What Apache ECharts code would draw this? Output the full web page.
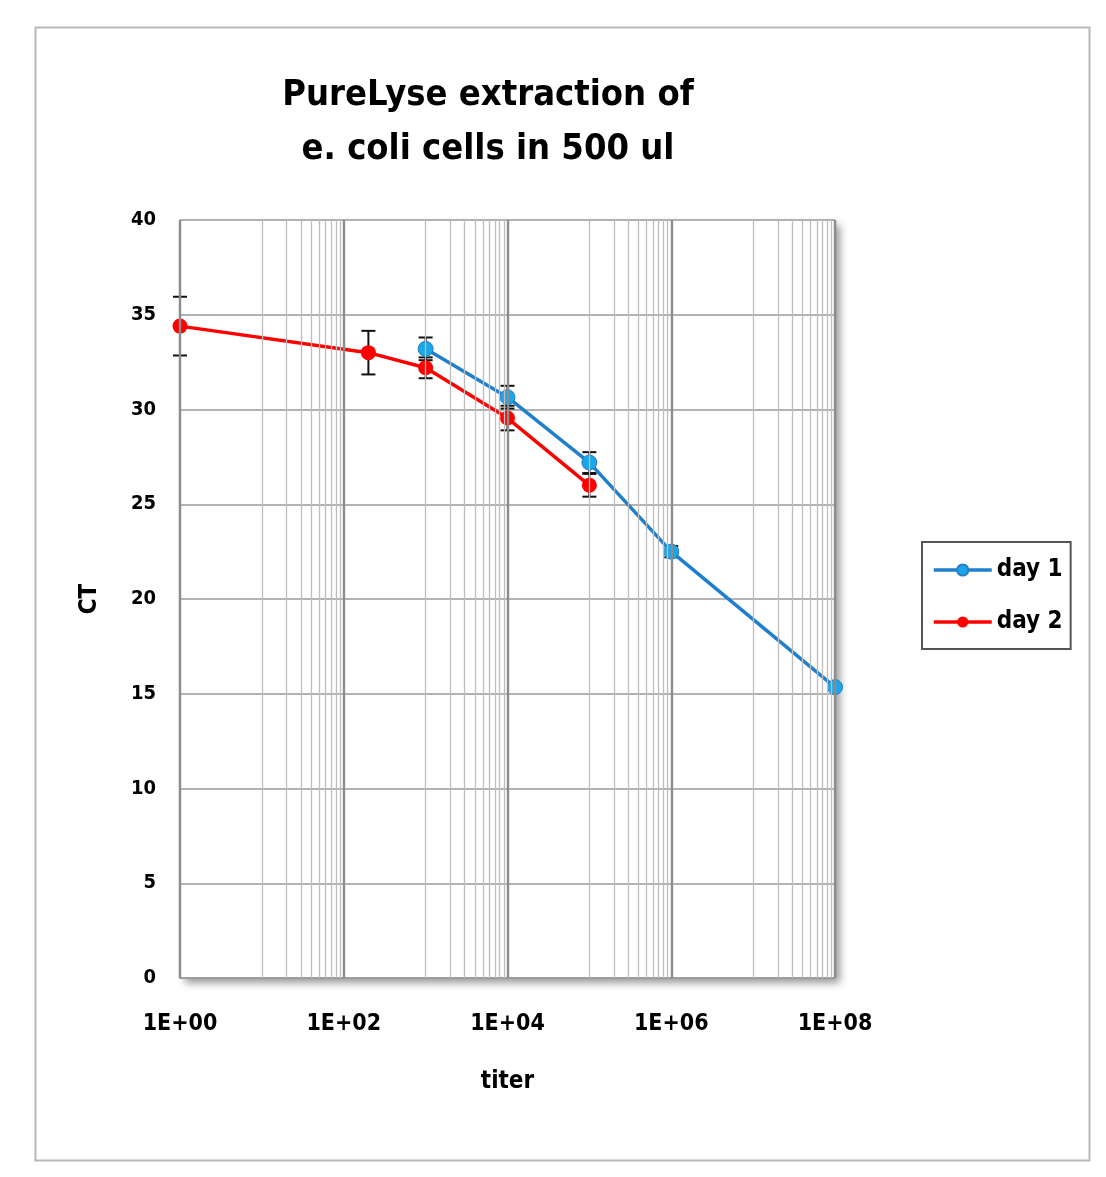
<!DOCTYPE html>
<html>
<head>
<meta charset="utf-8">
<script src="https://cdn.jsdelivr.net/npm/echarts@6/dist/echarts.min.js"></script>
<style>
  html, body { margin: 0; padding: 0; background: #fff; }
  #chart { width: 1106px; height: 1177px; }
</style>
</head>
<body>
<div id="chart"></div>
<script>
  // titer values and CT readings
  var day1Titer = [1000, 10000, 100000, 1000000, 100000000];
  var day1CT = [33.2, 30.65, 27.2, 22.5, 15.35];
  var day1Err = [0.6, 0.6, 0.55, 0.3, 0];

  var day2Titer = [1, 200, 1000, 10000, 100000];
  var day2CT = [34.4, 33.0, 32.2, 29.55, 26.0];
  var day2Err = [1.55, 1.15, 0.55, 0.65, 0.6];

  var yTicks = [0, 5, 10, 15, 20, 25, 30, 35, 40];
  var fontName = '"DejaVu Sans Condensed", "DejaVu Sans", sans-serif';

  // log axis grid: major every two decades, minor at 1..9 x 10^odd
  var majorLines = [];
  var minorLines = [];
  for (var d = 0; d <= 8; d++) {
    var base = Math.pow(10, d);
    if (d % 2 === 0) {
      majorLines.push(base);
    } else {
      for (var k = 1; k <= 9; k++) minorLines.push(k * base);
    }
  }

  function pairs(xs, ys) {
    return xs.map(function (x, i) { return [x, ys[i]]; });
  }
  function errData(xs, ys, es) {
    return xs.map(function (x, i) { return [x, ys[i] - es[i], ys[i] + es[i]]; });
  }

  function renderErr(params, api) {
    if (api.value(2) - api.value(1) <= 0) return;
    var lo = api.coord([api.value(0), api.value(1)]);
    var hi = api.coord([api.value(0), api.value(2)]);
    var cap = 7;
    var st = { stroke: '#111', lineWidth: 2 };
    return {
      type: 'group',
      children: [
        { type: 'line', shape: { x1: lo[0], y1: lo[1], x2: hi[0], y2: hi[1] }, style: st },
        { type: 'line', shape: { x1: lo[0] - cap, y1: lo[1], x2: lo[0] + cap, y2: lo[1] }, style: st },
        { type: 'line', shape: { x1: hi[0] - cap, y1: hi[1], x2: hi[0] + cap, y2: hi[1] }, style: st }
      ]
    };
  }

  var myChart = echarts.init(document.getElementById('chart'));
  var option = {
    animation: false,
    backgroundColor: '#fff',
    textStyle: { fontFamily: fontName },
    graphic: [{
      type: 'rect',
      left: 33, top: 25,
      shape: { width: 1054, height: 1133 },
      style: { fill: 'none', stroke: '#b8b8b8', lineWidth: 2 },
      silent: true
    }],
    title: {
      text: 'PureLyse extraction of\ne. coli cells in 500 ul',
      left: 483, top: 64,
      textAlign: 'center',
      textStyle: { fontSize: 36, fontWeight: 'bold', color: '#000', lineHeight: 54, fontFamily: fontName }
    },
    legend: {
      orient: 'vertical',
      left: 922, top: 542,
      padding: [16, 8, 15, 10],
      itemGap: 28,
      itemWidth: 58, itemHeight: 14,
      borderColor: '#555', borderWidth: 2,
      textStyle: { fontSize: 24, fontWeight: 'bold', color: '#000', fontFamily: fontName },
      data: [
        { name: 'day 1', lineStyle: { width: 3.5 } },
        { name: 'day 2', lineStyle: { width: 3.5 } }
      ]
    },
    grid: {
      left: 180, right: 271, top: 220, bottom: 199,
      show: true, backgroundColor: '#fff', borderWidth: 0,
      shadowColor: 'rgba(0,0,0,0.4)', shadowBlur: 8, shadowOffsetX: 5, shadowOffsetY: 5
    },
    xAxis: {
      type: 'log', logBase: 10, min: 1, max: 100000000,
      name: 'titer', nameLocation: 'middle', nameGap: 92,
      nameTextStyle: { fontSize: 24, fontWeight: 'bold', color: '#000', fontFamily: fontName },
      axisLine: { show: true, lineStyle: { color: '#999', width: 1.5 } },
      axisTick: { show: false },
      splitLine: { show: false },
      axisLabel: {
        margin: 35, fontSize: 23, fontWeight: 'bold', color: '#000',
        formatter: function (v) {
          var e = Math.round(Math.log(v) / Math.LN10);
          if (e % 2) return '';
          return '1E+' + (e < 10 ? '0' : '') + e;
        }
      }
    },
    yAxis: {
      type: 'value', min: yTicks[0], max: yTicks[yTicks.length - 1], interval: 5,
      name: 'CT', nameLocation: 'middle', nameGap: 78,
      nameTextStyle: { fontSize: 24, fontWeight: 'bold', color: '#000', fontFamily: fontName },
      axisLine: { show: true, lineStyle: { color: '#aaa', width: 1.5 } },
      axisTick: { show: false },
      splitLine: { lineStyle: { color: '#9a9a9a', width: 1.5 } },
      axisLabel: { margin: 24, fontSize: 20, fontWeight: 'bold', color: '#000' }
    },
    series: [
      {
        name: 'grid', type: 'line', data: [], silent: true, z: 1,
        markLine: {
          silent: true, symbol: 'none', label: { show: false },
          data: minorLines.map(function (v) {
            return { xAxis: v, lineStyle: { color: '#bdbdbd', width: 1.3, type: 'solid' } };
          }).concat(majorLines.map(function (v) {
            return { xAxis: v, lineStyle: { color: '#8c8c8c', width: 2.4, type: 'solid' } };
          }))
        }
      },
      {
        name: 'err1', type: 'custom', renderItem: renderErr, z: 2, silent: true, clip: false,
        encode: { x: 0, y: [1, 2] },
        data: errData(day1Titer, day1CT, day1Err)
      },
      {
        name: 'err2', type: 'custom', renderItem: renderErr, z: 2, silent: true, clip: false,
        encode: { x: 0, y: [1, 2] },
        data: errData(day2Titer, day2CT, day2Err)
      },
      {
        name: 'day 1', type: 'line', data: pairs(day1Titer, day1CT),
        symbol: 'circle', symbolSize: 15, z: 4,
        lineStyle: { color: '#1f7fcc', width: 3.5 },
        itemStyle: { color: '#1aa7ea', borderColor: '#2a7cc4', borderWidth: 1 }
      },
      {
        name: 'day 2', type: 'line', data: pairs(day2Titer, day2CT),
        symbol: 'circle', symbolSize: 15, z: 3,
        lineStyle: { color: '#ff0000', width: 3.5 },
        itemStyle: { color: '#ff0000' }
      }
    ]
  };
  myChart.setOption(option);
</script>
</body>
</html>
